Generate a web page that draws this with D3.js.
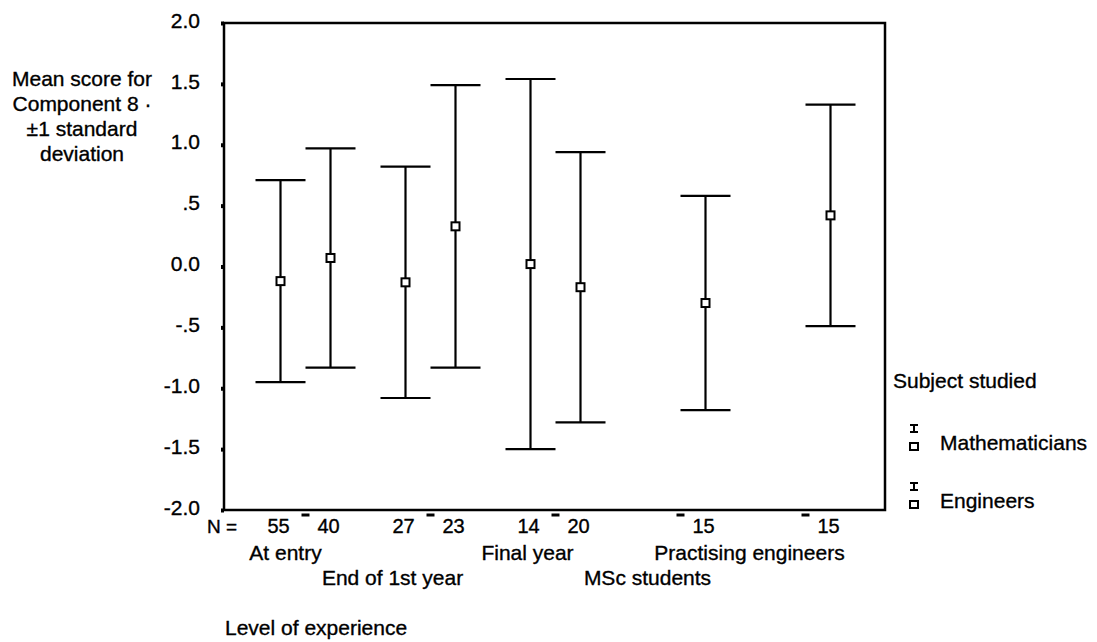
<!DOCTYPE html>
<html><head><meta charset="utf-8">
<script src="https://cdn.jsdelivr.net/npm/d3@7"></script>
<style>
body{margin:0;background:#fff;}
svg text{font-family:"Liberation Sans",Arial,sans-serif;fill:#000;stroke:#000;stroke-width:0.35px;}
</style></head>
<body><svg id="c" width="1097" height="642"></svg>
<script>
// ---- data ----
const categories = ["At entry","End of 1st year","Final year","MSc students","Practising engineers"];
const subjects = ["Mathematicians","Engineers"];
const barCategory = ["At entry","At entry","End of 1st year","End of 1st year","Final year","Final year","MSc students","Practising engineers"];
const barSubject  = ["Mathematicians","Engineers","Mathematicians","Engineers","Mathematicians","Engineers","Engineers","Engineers"];
const barMean     = [-0.12, 0.07, -0.13, 0.33, 0.02, -0.17, -0.30, 0.42];
const barSD       = [0.83, 0.90, 0.95, 1.16, 1.52, 1.11, 0.88, 0.91];
const barN        = [55, 40, 27, 23, 14, 20, 15, 15];
const yTicks      = [2.0,1.5,1.0,0.5,0.0,-0.5,-1.0,-1.5,-2.0];
const yTickLabels = ["2.0","1.5","1.0",".5","0.0","-.5","-1.0","-1.5","-2.0"];
const catLabelRow = [0,1,0,1,0];
const catLabelDx  = [-20,-38,-28,-33,-56];

// ---- layout ----
const svg = d3.select("#c");
const L=224, R=885, T=23, B=510;
const y = d3.scaleLinear().domain([-2,2]).range([B,T]);
const x = d3.scaleBand().domain(categories).range([243,868]);
const xs = d3.scaleBand().domain(subjects).range([12.5,112.5]);
const bx = i => x(barCategory[i]) + xs(barSubject[i]) + xs.bandwidth()/2;

// frame
svg.append("rect").attr("x",L).attr("y",T).attr("width",R-L).attr("height",B-T)
  .attr("fill","none").attr("stroke","#000").attr("stroke-width",2.5);

// y axis ticks
const yAxis = d3.axisLeft(y).tickValues(yTicks).tickSize(3)
  .tickFormat((d,i)=>yTickLabels[i]);
const ga = svg.append("g").attr("transform",`translate(${L},0)`).call(yAxis);
ga.select(".domain").remove();
ga.selectAll(".tick line").attr("stroke","#000").attr("stroke-width",4);
ga.selectAll(".tick text").attr("x",-24).attr("dy","0.2em")
  .style("font-size","21px").style("font-family","'Liberation Sans',Arial,sans-serif");

// category ticks below axis
svg.append("g").selectAll("line").data(categories).join("line")
  .attr("x1",d=>x(d)+x.bandwidth()/2-4).attr("x2",d=>x(d)+x.bandwidth()/2+4)
  .attr("y1",B+5).attr("y2",B+5).attr("stroke","#000").attr("stroke-width",3);

// error bars
const cap = 25;
const g = svg.append("g");
barMean.forEach((m,i)=>{
  const cx = bx(i), top = y(m+barSD[i]), bot = y(m-barSD[i]);
  g.append("line").attr("x1",cx).attr("x2",cx).attr("y1",top).attr("y2",bot)
    .attr("stroke","#000").attr("stroke-width",2.2);
  [top,bot].forEach(yy=>g.append("line").attr("x1",cx-cap).attr("x2",cx+cap)
    .attr("y1",yy).attr("y2",yy).attr("stroke","#000").attr("stroke-width",2.2));
  g.append("rect").attr("x",cx-4).attr("y",y(m)-4).attr("width",8).attr("height",8)
    .attr("fill","#fff").attr("stroke","#000").attr("stroke-width",2);
});

// N row
svg.append("text").attr("x",207).attr("y",533).style("font-size","19px").text("N =");
barN.forEach((n,i)=>{
  svg.append("text").attr("x",bx(i)-2).attr("y",533).attr("text-anchor","middle")
    .style("font-size","20px").text(n);
});

// category labels
categories.forEach((c,i)=>{
  svg.append("text").attr("x",x(c)+x.bandwidth()/2+catLabelDx[i])
    .attr("y",catLabelRow[i]===0?560:585).attr("text-anchor","middle")
    .style("font-size","21px").text(c);
});

// x title
svg.append("text").attr("x",225).attr("y",635).style("font-size","21px").text("Level of experience");

// y title
const yt = ["Mean score for","Component 8 ·","±1 standard","deviation"];
yt.forEach((t,i)=>svg.append("text").attr("x",82).attr("y",86+i*25)
  .attr("text-anchor","middle").style("font-size","21px").text(t));

// legend
svg.append("text").attr("x",893).attr("y",388).style("font-size","21px").text("Subject studied");
subjects.forEach((s,i)=>{
  const ly = 442 + i*58;
  const lx = 914;
  const lg = svg.append("g");
  lg.append("line").attr("x1",lx).attr("x2",lx).attr("y1",ly-17).attr("y2",ly-10).attr("stroke","#000").attr("stroke-width",2);
  lg.append("line").attr("x1",lx-4).attr("x2",lx+4).attr("y1",ly-17).attr("y2",ly-17).attr("stroke","#000").attr("stroke-width",2);
  lg.append("line").attr("x1",lx-4).attr("x2",lx+4).attr("y1",ly-10).attr("y2",ly-10).attr("stroke","#000").attr("stroke-width",2);
  lg.append("rect").attr("x",lx-4).attr("y",ly+1).attr("width",8).attr("height",7)
    .attr("fill","#fff").attr("stroke","#000").attr("stroke-width",2);
  svg.append("text").attr("x",940).attr("y",ly+8).style("font-size","21px").text(s);
});
</script></body></html>
